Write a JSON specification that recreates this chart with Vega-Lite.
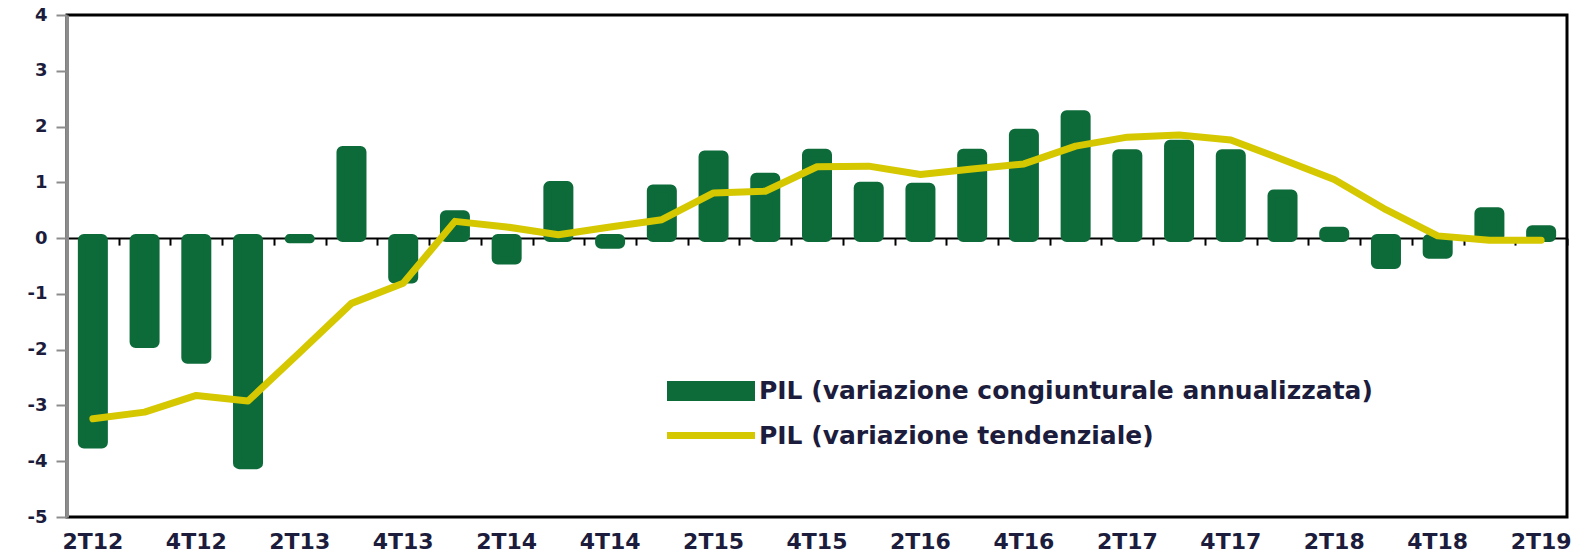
{
  "$schema": "https://vega.github.io/schema/vega-lite/v6.json",
  "width": 1500,
  "height": 502,
  "autosize": {"type": "none"},
  "padding": {"left": 67, "top": 15, "right": 12, "bottom": 40},
  "background": "white",
  "config": {
    "view": {"stroke": "black", "strokeWidth": 3},
    "font": "DejaVu Sans"
  },
  "data": {
    "values": [
      {"q": "2T12", "bar": -3.70, "trend": -3.24},
      {"q": "3T12", "bar": -1.90, "trend": -3.12},
      {"q": "4T12", "bar": -2.18, "trend": -2.82},
      {"q": "1T13", "bar": -4.07, "trend": -2.92},
      {"q": "2T13", "bar": -0.02, "trend": -2.05},
      {"q": "3T13", "bar": 1.58, "trend": -1.17},
      {"q": "4T13", "bar": -0.74, "trend": -0.81},
      {"q": "1T14", "bar": 0.43, "trend": 0.30},
      {"q": "2T14", "bar": -0.40, "trend": 0.20},
      {"q": "3T14", "bar": 0.95, "trend": 0.06},
      {"q": "4T14", "bar": -0.12, "trend": 0.20},
      {"q": "1T15", "bar": 0.89, "trend": 0.33},
      {"q": "2T15", "bar": 1.50, "trend": 0.81},
      {"q": "3T15", "bar": 1.10, "trend": 0.84},
      {"q": "4T15", "bar": 1.53, "trend": 1.28},
      {"q": "1T16", "bar": 0.94, "trend": 1.29},
      {"q": "2T16", "bar": 0.92, "trend": 1.14},
      {"q": "3T16", "bar": 1.53, "trend": 1.24},
      {"q": "4T16", "bar": 1.89, "trend": 1.33},
      {"q": "1T17", "bar": 2.22, "trend": 1.65},
      {"q": "2T17", "bar": 1.52, "trend": 1.81},
      {"q": "3T17", "bar": 1.69, "trend": 1.85},
      {"q": "4T17", "bar": 1.52, "trend": 1.76},
      {"q": "1T18", "bar": 0.80, "trend": 1.41},
      {"q": "2T18", "bar": 0.13, "trend": 1.05},
      {"q": "3T18", "bar": -0.48, "trend": 0.51},
      {"q": "4T18", "bar": -0.30, "trend": 0.04},
      {"q": "1T19", "bar": 0.48, "trend": -0.04},
      {"q": "2T19", "bar": 0.16, "trend": -0.04}
    ]
  },
  "resolve": {"axis": {"x": "independent"}},
  "layer": [
    {
      "mark": {"type": "bar", "width": 22, "stroke": "#0d6b3a", "strokeWidth": 8, "strokeJoin": "round", "cornerRadius": 2},
      "encoding": {
        "x": {
          "field": "q", "type": "nominal", "sort": null,
          "scale": {"type": "band", "paddingInner": 0, "paddingOuter": 0},
          "axis": {
            "orient": "bottom", "title": null, "labelAngle": 0,
            "values": ["2T12","4T12","2T13","4T13","2T14","4T14","2T15","4T15","2T16","4T16","2T17","4T17","2T18","4T18","2T19"],
            "ticks": false, "domain": false, "grid": false,
            "labelFontSize": 22, "labelFontWeight": "bold", "labelColor": "#1c1c3c", "labelPadding": 14, "labelFont": "DejaVu Sans"
          }
        },
        "y": {
          "field": "bar", "type": "quantitative",
          "scale": {"domain": [-5, 4], "nice": false, "zero": false},
          "axis": {
            "title": null, "values": [-5,-4,-3,-2,-1,0,1,2,3,4], "grid": false,
            "labelExpr": "datum.value < 0 ? '-' + abs(datum.value) : '' + datum.value",
            "domainColor": "#8c8c8c", "domainWidth": 3,
            "tickColor": "#8c8c8c", "tickWidth": 2, "tickSize": 11,
            "labelFontSize": 18, "labelFontWeight": "bold", "labelColor": "#1c1c3c", "labelPadding": 9, "labelFont": "DejaVu Sans"
          }
        },
        "fill": {
          "datum": "PIL (variazione congiunturale annualizzata)",
          "scale": {
            "domain": ["PIL (variazione congiunturale annualizzata)"],
            "range": ["#0d6b3a"]
          },
          "legend": {
            "title": null, "orient": "none", "legendX": 600, "legendY": 354.5,
            "direction": "vertical", "padding": 0,
            "symbolType": "M-1,-0.465H3.093V0.465H-1Z",
            "symbolSize": 1849, "symbolStrokeWidth": 0, "symbolOffset": 0,
            "symbolFillColor": "#0d6b3a", "symbolOpacity": 1,
            "labelOffset": 49,
            "labelFontSize": 25, "labelFontWeight": "bold", "labelColor": "#1c1c3c", "labelFont": "DejaVu Sans", "labelLimit": 900
          }
        }
      }
    },
    {
      "mark": {"type": "line", "strokeWidth": 7, "strokeCap": "round", "strokeJoin": "round"},
      "encoding": {
        "x": {
          "field": "q", "type": "nominal", "sort": null,
          "axis": {
            "orient": "bottom", "offset": -278.9, "title": null, "labels": false,
            "domainColor": "black", "domainWidth": 2,
            "tickColor": "black", "tickWidth": 2, "tickSize": 7, "tickBand": "extent", "grid": false
          }
        },
        "y": {"field": "trend", "type": "quantitative"},
        "stroke": {
          "datum": "PIL (variazione tendenziale)",
          "scale": {
            "domain": ["PIL (variazione tendenziale)"],
            "range": ["#d5c800"]
          },
          "legend": {
            "title": null, "orient": "none", "legendX": 600, "legendY": 399,
            "direction": "vertical", "padding": 0,
            "symbolType": "M-1.194,0H3.694",
            "symbolSize": 1296, "symbolStrokeWidth": 7, "symbolOffset": 0,
            "symbolStrokeColor": "#d5c800", "symbolOpacity": 1,
            "labelOffset": 49,
            "labelFontSize": 25, "labelFontWeight": "bold", "labelColor": "#1c1c3c", "labelFont": "DejaVu Sans", "labelLimit": 900
          }
        }
      }
    }
  ]
}
